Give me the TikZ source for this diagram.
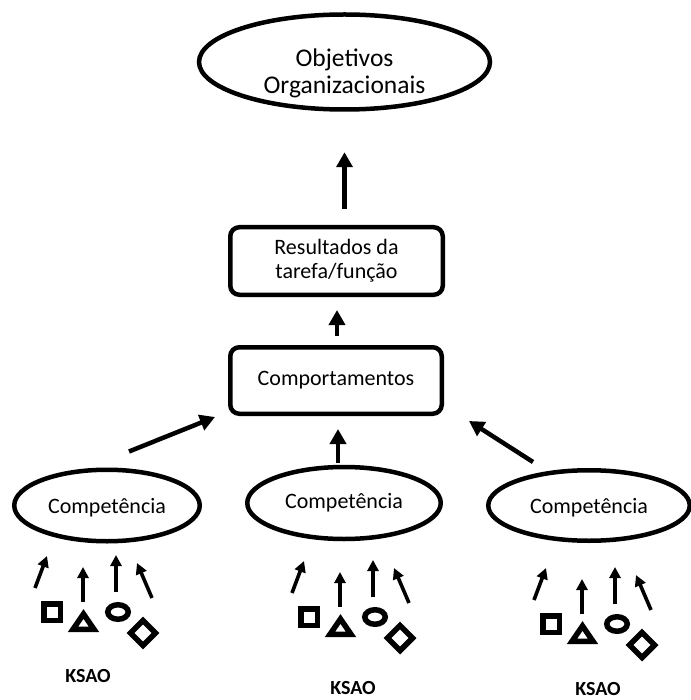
\documentclass[tikz,border=0pt]{standalone}
\usepackage{fontspec}
\setmainfont{Carlito}
\usetikzlibrary{shapes.geometric,arrows.meta,calc}
\begin{document}
\begin{tikzpicture}[x=1pt,y=-1pt,
  ell/.style={ellipse,draw,line width=4.5pt,inner sep=0pt,align=center},
  rbox/.style={rectangle,rounded corners=9pt,draw,line width=4.5pt,inner sep=0pt,align=center},
  bigarrow/.style={line width=4.5pt,-{Triangle[length=15pt,width=16pt]}},
  smallarrow/.style={line width=3.6pt,-{Triangle[length=11pt,width=11pt]}},
  shp/.style={line width=5.5pt},
  txt/.style={font=\fontsize{22}{24}\selectfont},
  ksao/.style={font=\bfseries\fontsize{20}{22}\selectfont},
]
\useasboundingbox (0,0) rectangle (690,700);

\node[ell,minimum width=291pt,minimum height=95pt,font=\fontsize{25.5}{27}\selectfont] (obj) at (344.5,62) {\raisebox{-12.5pt}[\height][\depth]{\begin{tabular}{@{}c@{}}Objetivos\\Organizacionais\end{tabular}}};
\node[rbox,minimum width=212.5pt,minimum height=67.5pt,txt] (res) at (336.5,261) {Resultados da\\tarefa/função};
\node[rbox,minimum width=211.5pt,minimum height=66.5pt,txt] (comp) at (336,380.5) {Comportamentos};
\node[ell,minimum width=185.5pt,minimum height=71.5pt,txt] (c1) at (107,505.5) {\raisebox{-2.5pt}[\height][\depth]{Competência}};
\node[ell,minimum width=193.5pt,minimum height=72pt,txt] (c2) at (344,503) {Competência};
\node[ell,minimum width=201.5pt,minimum height=70.5pt,txt] (c3) at (589,505.5) {\raisebox{-2.5pt}[\height][\depth]{Competência}};

\draw[bigarrow,shorten <=16pt,shorten >=40.5pt] (obj.south |- res.north) -- (obj.south);
\draw[bigarrow,shorten <=9pt,shorten >=13pt] ($(comp.north)+(1,0)$) -- ($(res.south)+(0.5,0)$);
\draw[bigarrow] ($(c1.north)+(22,-16)$) -- ($(comp.south west)+(-13,1)$);
\draw[bigarrow] ($(c2.north)+(-6,-2)$) -- ($(comp.south)+(2,13)$);
\draw[bigarrow] ($(c3.north)+(-56,-6)$) -- ($(comp.south east)+(25,5)$);

\foreach \gx/\gy in {52/612, 309/617, 551/624} {
  \begin{scope}[shift={(\gx,\gy)}]
    \draw[shp] (-8.25,-8.25) rectangle (8.25,8.25);
    \draw[shp] (21,17.3) -- (42,17.3) -- (31.5,2) -- cycle;
    \draw[shp] (66,0) ellipse [x radius=10.25pt, y radius=7.25pt];
    \draw[shp] (78.4,21) -- (91,8.4) -- (103.6,21) -- (91,33.6) -- cycle;
    \draw[smallarrow] (-17,-24) -- (-5,-56);
    \draw[smallarrow] (31,-10) -- (31,-45);
    \draw[smallarrow] (64,-20) -- (64,-57);
    \draw[smallarrow] (100,-14) -- (85,-49);
  \end{scope}
}

\node[ksao] (k1) at (88,676) {KSAO};
\node[ksao] (k2) at (353,688) {KSAO};
\node[ksao] (k3) at (598,689) {KSAO};
\end{tikzpicture}
\end{document}
